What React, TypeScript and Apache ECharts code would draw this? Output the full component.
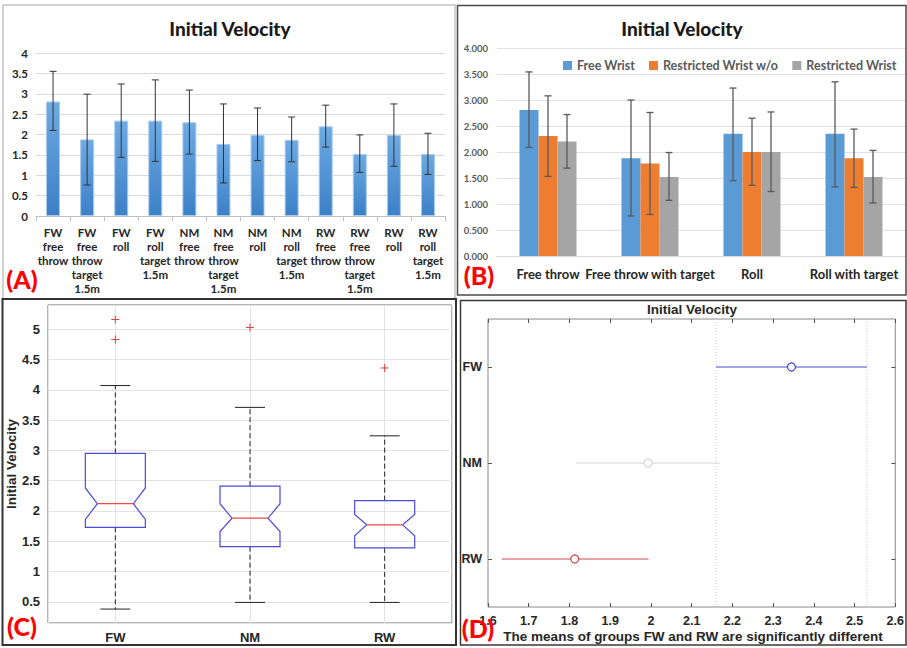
import React, { useEffect, useRef } from 'react';
import * as echarts from 'echarts';

// ---------- Panel A ----------
const categoriesA = [
  'FW\nfree\nthrow', 'FW\nfree\nthrow\ntarget\n1.5m', 'FW\nroll', 'FW\nroll\ntarget\n1.5m',
  'NM\nfree\nthrow', 'NM\nfree\nthrow\ntarget\n1.5m', 'NM\nroll', 'NM\nroll\ntarget\n1.5m',
  'RW\nfree\nthrow', 'RW\nfree\nthrow\ntarget\n1.5m', 'RW\nroll', 'RW\nroll\ntarget\n1.5m',
];
const meansA = [2.81, 1.88, 2.34, 2.34, 2.30, 1.77, 1.99, 1.87, 2.20, 1.52, 1.99, 1.52];
const upperA = [3.55, 2.99, 3.24, 3.34, 3.09, 2.75, 2.65, 2.43, 2.72, 1.99, 2.75, 2.03];
const lowerA = [2.10, 0.76, 1.44, 1.34, 1.52, 0.81, 1.36, 1.33, 1.69, 1.07, 1.22, 1.02];

// ---------- Panel B ----------
const categoriesB = ['Free throw', 'Free throw with target', 'Roll', 'Roll with target'];
const seriesNamesB = ['Free Wrist', 'Restricted Wrist w/o', 'Restricted Wrist'];
const freeWristB = [2.81, 1.88, 2.35, 2.35];
const freeWristUpperB = [3.54, 3.00, 3.23, 3.35];
const freeWristLowerB = [2.09, 0.77, 1.45, 1.33];
const restrictedWoB = [2.31, 1.78, 2.00, 1.88];
const restrictedWoUpperB = [3.08, 2.76, 2.65, 2.44];
const restrictedWoLowerB = [1.53, 0.80, 1.36, 1.32];
const restrictedB = [2.20, 1.52, 2.00, 1.52];
const restrictedUpperB = [2.72, 1.99, 2.77, 2.03];
const restrictedLowerB = [1.69, 1.07, 1.24, 1.02];

// ---------- Panel C ----------
const groupsC = ['FW', 'NM', 'RW'];
const whiskerLowC = [0.38, 0.49, 0.49];
const q1C = [1.73, 1.41, 1.39];
const medianC = [2.12, 1.88, 1.77];
const q3C = [2.95, 2.41, 2.17];
const whiskerHighC = [4.07, 3.71, 3.24];
const notchLowC = [1.86, 1.66, 1.59];
const notchHighC = [2.38, 2.12, 1.94];
const outlierGroupC = [0, 0, 1, 2];
const outlierValueC = [5.16, 4.83, 5.03, 4.36];

// ---------- Panel D ----------
const groupsD = ['FW', 'NM', 'RW'];
const meanD = [2.345, 1.993, 1.813];
const lowD = [2.16, 1.817, 1.634];
const highD = [2.53, 2.17, 1.994];
const yCategoriesD = ['RW', 'NM', 'FW'];

const colorsB = ['#5B9BD5', '#ED7D31', '#A5A5A5'];
const colorsD: Record<string, string> = { FW: '#4848d0', NM: '#d6d6d6', RW: '#d24a4a' };

const LATO = 'Lato';
const ARIAL = 'Liberation Sans';

function errorRender(offset: number, color: string, cap: number, lw: number) {
  return (params: any, api: any) => {
    const x = api.value(0);
    const lo = api.coord([x, api.value(1)]);
    const hi = api.coord([x, api.value(2)]);
    const cx = lo[0] + offset;
    const st = { stroke: color, lineWidth: lw };
    return {
      type: 'group',
      children: [
        { type: 'line', shape: { x1: cx, y1: lo[1], x2: cx, y2: hi[1] }, style: st },
        { type: 'line', shape: { x1: cx - cap, y1: lo[1], x2: cx + cap, y2: lo[1] }, style: st },
        { type: 'line', shape: { x1: cx - cap, y1: hi[1], x2: cx + cap, y2: hi[1] }, style: st },
      ],
    };
  };
}

export default function App() {
  const ref = useRef<HTMLDivElement>(null);
  useEffect(() => {
    if (!ref.current) return;
    const chart = echarts.init(ref.current, undefined, { renderer: 'svg' });

    const barsB = [freeWristB, restrictedWoB, restrictedB];
    const upB = [freeWristUpperB, restrictedWoUpperB, restrictedUpperB];
    const loB = [freeWristLowerB, restrictedWoLowerB, restrictedLowerB];

    const series: any[] = [];
    // A
    series.push({
      type: 'bar', xAxisIndex: 0, yAxisIndex: 0, data: meansA, barWidth: 14,
      itemStyle: {
        color: new echarts.graphic.LinearGradient(0, 0, 0, 1, [
          { offset: 0, color: '#6eaae2' }, { offset: 1, color: '#3c80c7' },
        ]),
        borderColor: '#a9cbee', borderWidth: 1,
      },
    });
    series.push({
      type: 'custom', xAxisIndex: 0, yAxisIndex: 0,
      data: lowerA.map((l, i) => [i, l, upperA[i]]),
      encode: { x: 0, y: [1, 2] },
      renderItem: errorRender(0, '#333', 3.5, 1), z: 5,
    });
    // B
    seriesNamesB.forEach((name, k) => {
      series.push({
        type: 'bar', name, xAxisIndex: 1, yAxisIndex: 1, data: barsB[k],
        barWidth: 19, barGap: '0%', itemStyle: { color: colorsB[k] },
      });
    });
    seriesNamesB.forEach((name, k) => {
      series.push({
        type: 'custom', xAxisIndex: 1, yAxisIndex: 1,
        data: loB[k].map((l, i) => [i, l, upB[k][i]]),
        encode: { x: 0, y: [1, 2] },
        renderItem: errorRender((k - 1) * 19, '#5a5a5a', 3.5, 1.3), z: 5,
      });
    });
    // C boxes
    series.push({
      type: 'custom', xAxisIndex: 2, yAxisIndex: 2,
      data: groupsC.map((g, i) => [i + 1, whiskerLowC[i], q1C[i], medianC[i], q3C[i], whiskerHighC[i], notchLowC[i], notchHighC[i]]),
      encode: { x: 0, y: [1, 2, 3, 4, 5] },
      renderItem: (params: any, api: any) => {
        const x = api.value(0);
        const y = (k: number) => api.coord([x, api.value(k)])[1];
        const cx = api.coord([x, api.value(1)])[0];
        const hw = 30, cap = 15, nin = 12;
        const yLow = y(1), yQ1 = y(2), yMed = y(3), yQ3 = y(4), yHigh = y(5), yNL = y(6), yNH = y(7);
        const dash = { stroke: '#222', lineWidth: 1, lineDash: [5, 3] };
        const solid = { stroke: '#222', lineWidth: 1 };
        return {
          type: 'group',
          children: [
            { type: 'line', shape: { x1: cx, y1: yQ3, x2: cx, y2: yHigh }, style: dash },
            { type: 'line', shape: { x1: cx, y1: yQ1, x2: cx, y2: yLow }, style: dash },
            { type: 'line', shape: { x1: cx - cap, y1: yHigh, x2: cx + cap, y2: yHigh }, style: solid },
            { type: 'line', shape: { x1: cx - cap, y1: yLow, x2: cx + cap, y2: yLow }, style: solid },
            {
              type: 'polygon',
              shape: {
                points: [
                  [cx - hw, yQ3], [cx + hw, yQ3], [cx + hw, yNH], [cx + hw - nin, yMed], [cx + hw, yNL],
                  [cx + hw, yQ1], [cx - hw, yQ1], [cx - hw, yNL], [cx - hw + nin, yMed], [cx - hw, yNH],
                ],
              },
              style: { fill: 'none', stroke: '#4a4ae0', lineWidth: 1.2 },
            },
            { type: 'line', shape: { x1: cx - hw + nin, y1: yMed, x2: cx + hw - nin, y2: yMed }, style: { stroke: '#f04848', lineWidth: 1.2 } },
          ],
        };
      },
    });
    // C outliers
    series.push({
      type: 'custom', xAxisIndex: 2, yAxisIndex: 2,
      data: outlierGroupC.map((g, i) => [g + 1, outlierValueC[i]]),
      encode: { x: 0, y: 1 },
      renderItem: (params: any, api: any) => {
        const p = api.coord([api.value(0), api.value(1)]);
        const s = 4, st = { stroke: '#e03c3c', lineWidth: 1 };
        return {
          type: 'group', children: [
            { type: 'line', shape: { x1: p[0] - s, y1: p[1], x2: p[0] + s, y2: p[1] }, style: st },
            { type: 'line', shape: { x1: p[0], y1: p[1] - s, x2: p[0], y2: p[1] + s }, style: st },
          ],
        };
      },
    });
    // D reference dotted lines (FW interval limits)
    series.push({
      type: 'custom', xAxisIndex: 3, yAxisIndex: 3,
      data: [[lowD[0]], [highD[0]]],
      encode: { x: 0 },
      renderItem: (params: any, api: any) => {
        const cs = params.coordSys;
        const px = api.coord([api.value(0), 0])[0];
        return { type: 'line', shape: { x1: px, y1: cs.y, x2: px, y2: cs.y + cs.height }, style: { stroke: '#c8c8c8', lineWidth: 1, lineDash: [1, 2] } };
      },
    });
    // D intervals
    series.push({
      type: 'custom', xAxisIndex: 3, yAxisIndex: 3,
      data: groupsD.map((g, i) => [meanD[i], lowD[i], highD[i], yCategoriesD.indexOf(g)]),
      encode: { x: [0, 1, 2], y: 3 },
      renderItem: (params: any, api: any) => {
        const yi = api.value(3);
        const color = colorsD[yCategoriesD[yi]];
        const pm = api.coord([api.value(0), yi]);
        const pl = api.coord([api.value(1), yi]);
        const ph = api.coord([api.value(2), yi]);
        return {
          type: 'group', children: [
            { type: 'line', shape: { x1: pl[0], y1: pl[1], x2: ph[0], y2: ph[1] }, style: { stroke: color, lineWidth: 1.2 } },
            { type: 'circle', shape: { cx: pm[0], cy: pm[1], r: 4 }, style: { fill: '#fff', stroke: color, lineWidth: 1.3 } },
          ],
        };
      },
    });

    const txt = (text: string, x: number, y: number, fontSize: number, fontFamily: string, fill = '#262626', fontWeight: any = 'bold') => ({
      type: 'text', x, y, z: 100,
      style: { text, fontSize, fontFamily, fontWeight, fill, align: 'center', verticalAlign: 'middle' },
    });
    const frame = (x: number, y: number, w: number, h: number, stroke: string, lw: number) => ({
      type: 'rect', z: 90, shape: { x, y, width: w, height: h }, style: { fill: 'none', stroke, lineWidth: lw },
    });

    const option: any = {
      animation: false,
      backgroundColor: '#fff',
      legend: {
        data: seriesNamesB, left: 558, top: 54, width: 345, itemWidth: 9, itemHeight: 9, icon: 'rect', itemGap: 14,
        textStyle: { fontFamily: LATO, fontWeight: 'bold', fontSize: 12.5, color: '#595959' },
      },
      grid: [
        { left: 36, top: 53, width: 409, height: 163 },
        { left: 497, top: 48, width: 408, height: 208 },
        { left: 48, top: 305, width: 404, height: 318, show: true, borderColor: '#6a6a6a', borderWidth: 1 },
        { left: 488, top: 319, width: 409, height: 288, show: true, borderColor: '#8a8a8a', borderWidth: 1 },
      ],
      xAxis: [
        {
          type: 'category', gridIndex: 0, data: categoriesA,
          axisLine: { lineStyle: { color: '#bfbfbf' } },
          axisTick: { show: true, length: 5, lineStyle: { color: '#bfbfbf' } },
          axisLabel: { interval: 0, fontFamily: LATO, fontWeight: 'bold', fontSize: 11.5, color: '#262626', lineHeight: 14, margin: 9, verticalAlign: 'top' },
        },
        {
          type: 'category', gridIndex: 1, data: categoriesB,
          axisLine: { lineStyle: { color: '#d9d9d9' } }, axisTick: { show: false },
          axisLabel: { interval: 0, fontFamily: LATO, fontWeight: 'bold', fontSize: 13, color: '#262626', margin: 11 },
        },
        {
          type: 'value', gridIndex: 2, min: 0.5, max: 3.5, minInterval: 1, maxInterval: 1,
          axisLine: { show: false }, axisTick: { show: false },
          splitLine: { show: true, lineStyle: { color: '#e3e3e3' } },
          axisLabel: {
            fontFamily: ARIAL, fontWeight: 'bold', fontSize: 13, color: '#262626', margin: 8,
            formatter: (v: number) => (Math.abs(v - Math.round(v)) < 1e-6 && groupsC[Math.round(v) - 1]) || '',
          },
        },
        {
          type: 'value', gridIndex: 3, min: 1.6, max: 2.6, interval: 0.1,
          axisLine: { show: false }, splitLine: { show: false },
          axisTick: { show: true, inside: true, length: 4, lineStyle: { color: '#555' } },
          axisLabel: {
            fontFamily: ARIAL, fontWeight: 'bold', fontSize: 12.5, color: '#262626', margin: 7,
            formatter: (v: number) => String(Math.round(v * 10) / 10),
          },
        },
        {
          type: 'value', gridIndex: 3, position: 'top', min: 1.6, max: 2.6, interval: 0.1,
          axisLine: { show: false }, splitLine: { show: false }, axisLabel: { show: false },
          axisTick: { show: true, inside: true, length: 4, lineStyle: { color: '#555' } },
        },
      ],
      yAxis: [
        {
          type: 'value', gridIndex: 0, min: 0, max: 4, interval: 0.5,
          axisLine: { show: false }, axisTick: { show: false },
          splitLine: { lineStyle: { color: '#d9d9d9' } },
          axisLabel: { fontFamily: LATO, fontWeight: 'bold', fontSize: 11.5, color: '#262626', margin: 8 },
        },
        {
          type: 'value', gridIndex: 1, min: 0, max: 4, interval: 0.5,
          axisLine: { show: false }, axisTick: { show: false },
          splitLine: { lineStyle: { color: '#e2e2e2' } },
          axisLabel: { fontFamily: LATO, fontWeight: 'bold', fontSize: 9.5, color: '#595959', margin: 9, formatter: (v: number) => v.toFixed(3) },
        },
        {
          type: 'value', gridIndex: 2, min: 0.15, max: 5.4, minInterval: 0.5, maxInterval: 0.5,
          axisLine: { show: false }, axisTick: { show: false },
          splitLine: { lineStyle: { color: '#e3e3e3' } },
          name: 'Initial Velocity', nameLocation: 'middle', nameGap: 30, nameRotate: 90,
          nameTextStyle: { fontFamily: ARIAL, fontWeight: 'bold', fontSize: 13.5, color: '#262626' },
          axisLabel: {
            fontFamily: ARIAL, fontWeight: 'bold', fontSize: 13, color: '#262626', margin: 8,
            formatter: (v: number) => {
              const r = Math.round(v * 2) / 2;
              return Math.abs(v - r) < 1e-6 ? String(r) : '';
            },
          },
        },
        {
          type: 'category', gridIndex: 3, data: yCategoriesD,
          axisLine: { show: false }, splitLine: { show: false },
          axisTick: { show: true, inside: true, alignWithLabel: true, length: 4, lineStyle: { color: '#555' } },
          axisLabel: { fontFamily: ARIAL, fontWeight: 'bold', fontSize: 12.5, color: '#262626', margin: 6 },
        },
        {
          type: 'category', gridIndex: 3, position: 'right', data: yCategoriesD,
          axisLine: { show: false }, splitLine: { show: false }, axisLabel: { show: false },
          axisTick: { show: true, inside: true, alignWithLabel: true, length: 4, lineStyle: { color: '#555' } },
        },
      ],
      series,
      graphic: [
        frame(3, 5, 452, 294, '#c4c4c4', 1.5),
        frame(457.5, 5.5, 448.5, 289.5, '#4a4a4a', 1.5),
        frame(2.5, 299, 453.5, 346, '#333', 2),
        frame(460.5, 300.5, 445.5, 344.5, '#3a3a3a', 1.5),
        txt('Initial Velocity', 230, 28, 19, LATO, '#1a1a1a', 900),
        txt('Initial Velocity', 682, 28, 19, LATO, '#1a1a1a', 900),
        txt('Initial Velocity', 692, 309, 13.5, ARIAL),
        txt('The means of groups FW and RW are significantly different', 693, 636, 13.5, ARIAL),
        txt('(A)', 22, 279, 25, LATO, '#ff0000', 900),
        txt('(B)', 479, 275, 25, LATO, '#ff0000', 900),
        txt('(C)', 22, 626, 25, LATO, '#ff0000', 900),
        txt('(D)', 478, 628, 25, LATO, '#ff0000', 900),
      ],
    };
    chart.setOption(option);
    return () => chart.dispose();
  }, []);
  return <div ref={ref} style={{ position: 'fixed', left: 0, top: 0, width: 907, height: 648, background: '#fff' }} />;
}
